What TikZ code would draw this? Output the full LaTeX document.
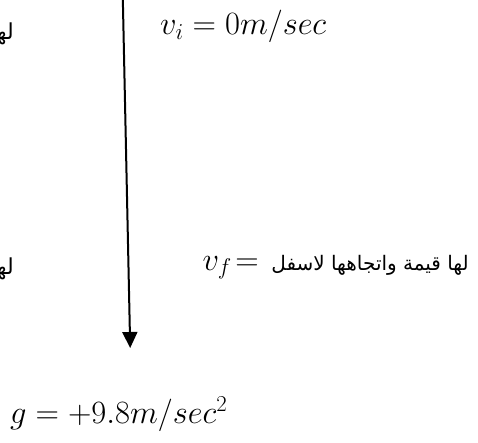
\RequirePackage{fix-cm}
\documentclass[tikz,border=0pt]{standalone}
\usepackage{fontspec}
\newfontfamily\arabicfont[Script=Arabic]{DejaVu Sans}
\TeXXeTstate=1
\usetikzlibrary{arrows.meta}
\tikzset{
  mathlbl/.style={inner sep=0pt, font=\fontsize{32.5}{38}\selectfont},
  arlbl/.style={inner sep=0pt, font=\fontsize{20}{24}\selectfont\arabicfont},
  fallarrow/.style={line width=2pt, -{Triangle[width=15pt,length=16pt]}}
}
\begin{document}
\begin{tikzpicture}[x=1pt,y=1pt]
\clip (0,0) rectangle (478,-443);
\fill[white] (0,0) rectangle (478,-443);
\coordinate (top) at (122.8,2);
\coordinate (tip) at (130.2,-348);
\draw[fallarrow] (top) -- (tip);
\node[mathlbl, anchor=base west] (vi) at (160,-35) {$v_i = 0m/sec$};
\node[mathlbl, anchor=base east] (vf) at (259,-270) {$v_f\mkern2mu{=}$};
\node[arlbl, anchor=base east] (ar) at (469,-270) {\beginR لها قيمة واتجاهها لاسفل\endR};
\node[mathlbl, anchor=base west] (g) at (10,-423) {$g = +9.8m/sec^2$};
\node[arlbl, anchor=base east, font=\fontsize{22}{26}\selectfont\arabicfont] (l1) at (14,-40) {\beginR لها\endR};
\node[arlbl, anchor=base east, font=\fontsize{22}{26}\selectfont\arabicfont] (l2) at (14,-274) {\beginR لها\endR};
\end{tikzpicture}
\end{document}
